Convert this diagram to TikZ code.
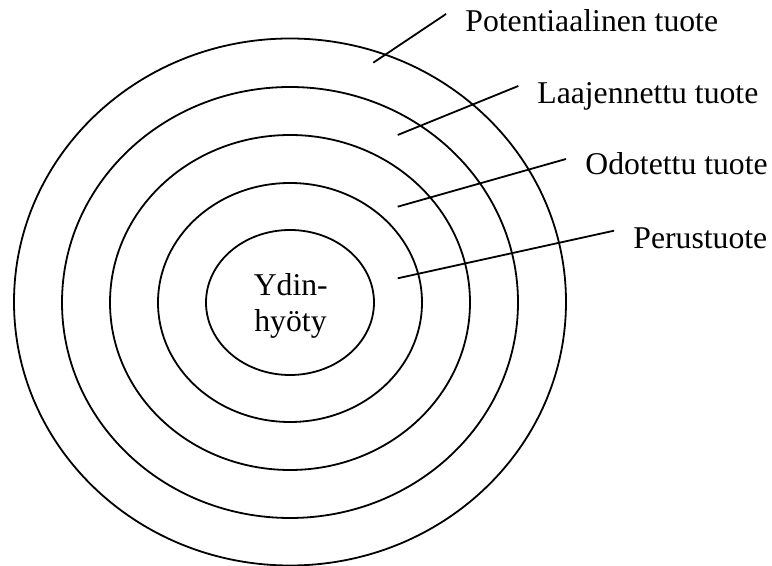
\documentclass[tikz,border=0pt]{standalone}
\usepackage{fontspec}
\setmainfont{Liberation Serif}
\begin{document}
\begin{tikzpicture}[x=0.5pt,y=-0.5pt,
  ring/.style={line width=0.9pt},
  leader/.style={line width=0.9pt},
  lbl/.style={inner sep=0pt,anchor=base west,font=\fontsize{15.85}{18}\selectfont},
  coretext/.style={inner sep=0pt,anchor=base,font=\fontsize{15.85}{18}\selectfont}]
\useasboundingbox (0,0) rectangle (772,566);
% rings
\draw[ring] (290,302) ellipse [x radius=138pt, y radius=131.75pt];
\draw[ring] (290,302.5) ellipse [x radius=114pt, y radius=107.75pt];
\draw[ring] (290,302.5) ellipse [x radius=90pt, y radius=83.75pt];
\draw[ring] (290,302.5) ellipse [x radius=66pt, y radius=59.75pt];
\draw[ring] (290,302.5) ellipse [x radius=42pt, y radius=36.25pt];
% core text
\node[coretext] (ydin) at (290.8,296) {Ydin-};
\node[coretext] (hyoty) at (290.5,331.7) {hyöty};
% labels
\node[lbl] (pot) at (465,31.7) {Potentiaalinen tuote};
\node[lbl] (laa) at (537,103.3) {Laajennettu tuote};
\node[lbl] (odo) at (585,175) {Odotettu tuote};
\node[lbl] (per) at (633,248.3) {Perustuote};
% leader ends
\coordinate (p1) at (373.3,62.7); \coordinate (p2) at (446,14);
\coordinate (l1) at (397.7,135);  \coordinate (l2) at (518.3,86);
\coordinate (o1) at (397.7,206.7); \coordinate (o2) at (566,159);
\coordinate (r1) at (397.7,278.3); \coordinate (r2) at (614,230.7);
\draw[leader] (p1) -- (p2);
\draw[leader] (l1) -- (l2);
\draw[leader] (o1) -- (o2);
\draw[leader] (r1) -- (r2);
\end{tikzpicture}
\end{document}
